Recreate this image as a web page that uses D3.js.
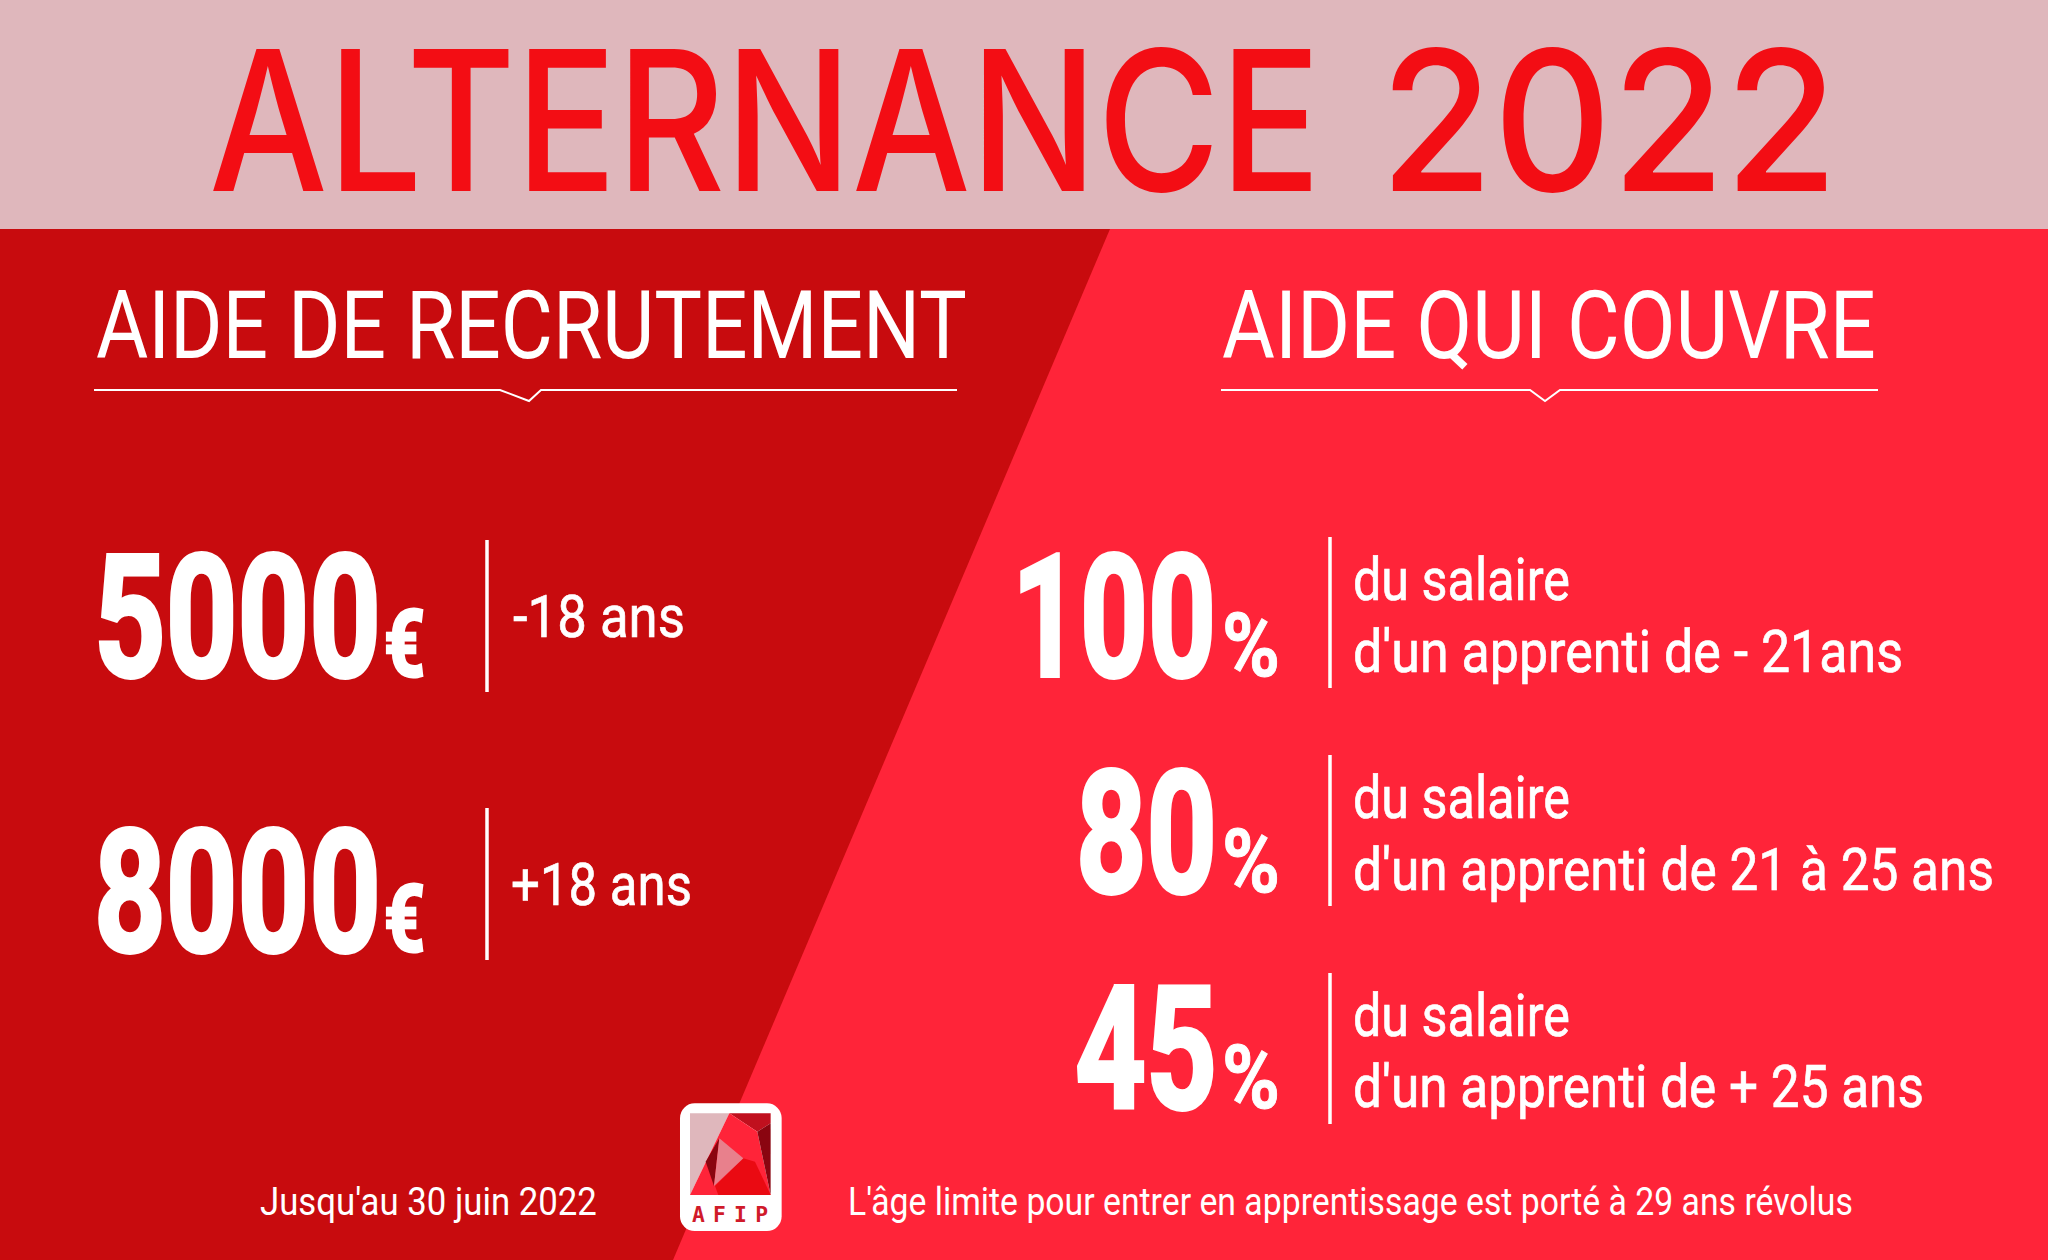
<!DOCTYPE html>
<html>
<head>
<meta charset="utf-8">
<script src="https://cdnjs.cloudflare.com/ajax/libs/d3/7.8.5/d3.min.js"></script>
<style>
  html, body { margin: 0; padding: 0; background: #fff; }
  svg { display: block; }
  text { font-family: Roboto, "Liberation Sans", sans-serif; fill: #fff; }
</style>
</head>
<body>
<div id="chart"></div>
<script>
var titleWords = ["ALTERNANCE", "2022"];
var headers = ["AIDE DE RECRUTEMENT", "AIDE QUI COUVRE"];

var amounts = [5000, 8000];
var amountUnit = "€";
var ageLabels = ["-18 ans", "+18 ans"];

var percents = [100, 80, 45];
var percentUnit = "%";
var salaryIntro = "du salaire";
var salaryLines = ["d'un apprenti de - 21ans", "d'un apprenti de 21 à 25 ans", "d'un apprenti de + 25 ans"];

var footerLeft = "Jusqu'au 30 juin 2022";
var footerRight = "L'âge limite pour entrer en apprentissage est porté à 29 ans révolus";
var logoLetters = ["A", "F", "I", "P"];

var width = 2048, height = 1260;
var svg = d3.select("#chart").append("svg").attr("width", width).attr("height", height);

// background panels
svg.append("rect").attr("width", width).attr("height", height).attr("fill", "#ff2439");
svg.append("path").attr("d", "M0,229 L1110,229 L673,1260 L0,1260 Z").attr("fill", "#c80b0e");
svg.append("rect").attr("width", width).attr("height", 229).attr("fill", "#dfb7bc");

// the original uses a condensed face we don't have, so scale each text to its width
function place(sel, x, y, w) {
  sel.each(function(d, i) {
    var len = this.getComputedTextLength();
    var k = w(d, i) / len;
    d3.select(this).attr("transform", "translate(" + x(d, i) + "," + y(d, i) + ") scale(" + k + ",1)");
  });
  return sel;
}
function val(v) { return function() { return v; }; }

// title
var titleX = d3.scaleOrdinal().domain(titleWords).range([209, 1380]);
var titleW = d3.scaleOrdinal().domain(titleWords).range([1112, 458]);
svg.selectAll(".title").data(titleWords).enter().append("text")
  .attr("class", "title")
  .style("font-family", "Inter").style("font-size", "195px").style("font-weight", 500)
  .style("fill", "#f30d14")
  .text(function(d) { return d; })
  .call(place, titleX, val(191), titleW);

// section headers with the little notch underline
var headerX = d3.scaleOrdinal().domain(headers).range([96, 1222]);
var headerW = d3.scaleOrdinal().domain(headers).range([871, 654]);
svg.selectAll(".hdr").data(headers).enter().append("text")
  .attr("class", "hdr")
  .style("font-size", "95px")
  .text(function(d) { return d; })
  .call(place, headerX, val(358), headerW);

var underline = d3.line();
[[94, 500, 529, 541, 957], [1221, 1530, 1545, 1560, 1878]].forEach(function(u) {
  svg.append("path")
    .attr("d", underline([[u[0], 390], [u[1], 390], [u[2], 401], [u[3], 390], [u[4], 390]]))
    .attr("fill", "none").attr("stroke", "#fff").attr("stroke-width", 2);
});

function bold(sel, w) {
  return sel.style("font-weight", 700).style("stroke", "#fff").style("stroke-width", w);
}

// left column
var yAmount = d3.scalePoint().domain(amounts).range([676, 951]);
var yAmountRule = d3.scalePoint().domain(amounts).range([540, 808]);
var yAge = d3.scalePoint().domain(amounts).range([637, 905]);
var ageX = [513, 511], ageW = [172, 181];

var leftRows = svg.selectAll(".left").data(amounts).enter().append("g").attr("class", "left");
leftRows.append("text")
  .style("font-size", "171px").call(bold, 4)
  .text(function(d) { return d; })
  .call(place, val(94), yAmount, val(287));
leftRows.append("text")
  .style("font-size", "92px").call(bold, 3)
  .text(amountUnit)
  .call(place, val(384), yAmount, val(41));
leftRows.append("line")
  .attr("x1", 487).attr("x2", 487)
  .attr("y1", function(d) { return yAmountRule(d); })
  .attr("y2", function(d) { return yAmountRule(d) + 152; })
  .attr("stroke", "#fff").attr("stroke-width", 3.5);
leftRows.append("text")
  .style("font-size", "60px").style("stroke", "#fff").style("stroke-width", 0.7)
  .text(function(d, i) { return ageLabels[i]; })
  .call(place, function(d, i) { return ageX[i]; }, yAge, function(d, i) { return ageW[i]; });

// right column
var yPercent = d3.scalePoint().domain(percents).range([676, 1108]);
var yPercentRule = d3.scalePoint().domain(percents).range([537, 973]);
var yIntro = d3.scalePoint().domain(percents).range([600, 1036]);
var yLine = d3.scalePoint().domain(percents).range([672, 1107]);
var percentX = [1012, 1076, 1075], percentW = [204, 141, 142];
var lineW = [550, 641, 571];

var rightRows = svg.selectAll(".right").data(percents).enter().append("g").attr("class", "right");
rightRows.append("text")
  .style("font-size", "171px").call(bold, 4)
  .text(function(d) { return d; })
  .call(place, function(d, i) { return percentX[i]; }, yPercent, function(d, i) { return percentW[i]; });
rightRows.append("text")
  .style("font-size", "89px").call(bold, 1)
  .text(percentUnit)
  .call(place, val(1222), yPercent, val(58));
rightRows.append("line")
  .attr("x1", 1330).attr("x2", 1330)
  .attr("y1", function(d) { return yPercentRule(d); })
  .attr("y2", function(d) { return yPercentRule(d) + 151; })
  .attr("stroke", "#fff").attr("stroke-width", 3.5);
rightRows.append("text")
  .style("font-size", "60px").style("stroke", "#fff").style("stroke-width", 0.7)
  .text(salaryIntro)
  .call(place, val(1353), yIntro, val(217));
rightRows.append("text")
  .style("font-size", "60px").style("stroke", "#fff").style("stroke-width", 0.7)
  .text(function(d, i) { return salaryLines[i]; })
  .call(place, val(1353), yLine, function(d, i) { return lineW[i]; });

// footer
svg.append("text").style("font-size", "38px").text(footerLeft)
  .call(place, val(260), val(1215), val(337));
svg.append("text").style("font-size", "38px").text(footerRight)
  .call(place, val(848), val(1215), val(1005));

// logo, drawn in the coordinates of a 3x crop
var logo = svg.append("g").attr("transform", "translate(640,1080) scale(0.3333)");
logo.append("rect").attr("x", 120).attr("y", 70).attr("width", 305).attr("height", 383).attr("rx", 44).attr("fill", "#fff");
[
  ["#dfb7bc", "150,100 268,100 150,345"],
  ["#c0101e", "268,100 392,100 392,130 352,155"],
  ["#ff2439", "268,100 352,155 392,345 150,345"],
  ["#8a0510", "392,130 352,155 392,345"],
  ["#ea0a12", "225,318 310,235 345,245 392,345 235,345"],
  ["#8a0510", "238,175 222,318 197,245"],
  ["#e8808c", "238,175 310,235 222,318"]
].forEach(function(p) {
  logo.append("polygon").attr("points", p[1]).attr("fill", p[0]);
});
var logoX = d3.scalePoint().domain(logoLetters).range([175, 365]);
logo.selectAll(".logoLetter").data(logoLetters).enter().append("text")
  .attr("class", "logoLetter")
  .attr("x", function(d) { return logoX(d); }).attr("y", 425)
  .attr("text-anchor", "middle")
  .style("font-family", "DejaVu Sans Mono").style("font-size", "64px").style("font-weight", 700).style("fill", "#d01a2a")
  .text(function(d) { return d; });
</script>
</body>
</html>
